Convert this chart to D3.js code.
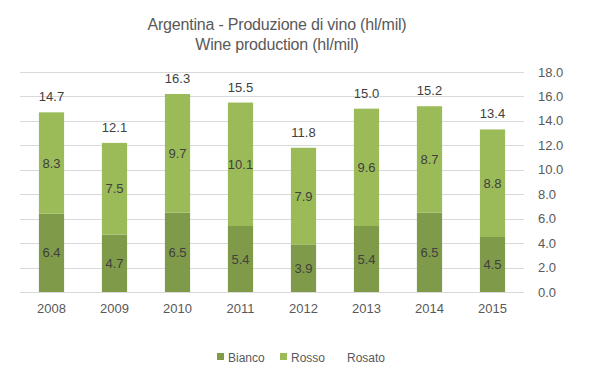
<!DOCTYPE html>
<html>
<head>
<meta charset="utf-8">
<script src="https://cdn.jsdelivr.net/npm/d3@7"></script>
<style>
	body { margin: 0; background: #fff; }
	svg { display: block; }
</style>
</head>
<body>
<div id="chart"></div>
<script>
var years = ["2008", "2009", "2010", "2011", "2012", "2013", "2014", "2015"];
var bianco = [6.4, 4.7, 6.5, 5.4, 3.9, 5.4, 6.5, 4.5];
var rosso = [8.3, 7.5, 9.7, 10.1, 7.9, 9.6, 8.7, 8.8];
var rosato = [0, 0, 0, 0, 0, 0, 0, 0];
var totals = [14.7, 12.1, 16.3, 15.5, 11.8, 15.0, 15.2, 13.4];
var yTicks = [0, 2, 4, 6, 8, 10, 12, 14, 16, 18];
var seriesNames = ["Bianco", "Rosso", "Rosato"];
var seriesColors = ["#7f9a48", "#9bbb59", "none"];

var width = 599, height = 378;
var plotLeft = 20, plotRight = 524, plotTop = 72, plotBottom = 292;

var svg = d3.select("#chart").append("svg")
	.attr("width", width)
	.attr("height", height)
	.style("font-family", "'Liberation Sans', Arial, sans-serif");

var x = d3.scaleBand().domain(years).range([plotLeft, plotRight]).paddingInner(0.6).paddingOuter(0.3);
var y = d3.scaleLinear().domain([0, 18]).range([plotBottom, plotTop]);

// title
var title = svg.append("text")
	.attr("text-anchor", "middle")
	.style("font-family", "'Liberation Sans Narrow', 'Arial Narrow', 'Liberation Sans', sans-serif")
	.style("font-size", "16px")
	.style("letter-spacing", "-0.2px")
	.attr("fill", "#595959");
title.append("tspan").attr("x", 277).attr("y", 30).text("Argentina - Produzione di vino (hl/mil)");
title.append("tspan").attr("x", 277).attr("y", 50).text("Wine production (hl/mil)");

// grid
svg.append("g")
	.selectAll("line")
	.data(yTicks)
	.enter().append("line")
	.attr("x1", plotLeft)
	.attr("x2", plotRight)
	.attr("y1", function(d) { return Math.round(y(d)) + 0.5; })
	.attr("y2", function(d) { return Math.round(y(d)) + 0.5; })
	.attr("stroke", "#d9d9d9")
	.attr("stroke-width", 1);

// y axis labels
svg.append("g")
	.selectAll("text")
	.data(yTicks)
	.enter().append("text")
	.attr("x", 538)
	.attr("y", function(d) { return y(d) + 4.5; })
	.attr("fill", "#595959")
	.style("font-size", "13px")
	.text(function(d) { return d.toFixed(1); });

// stacks
var rows = years.map(function(yr, i) {
	return { year: yr, Bianco: bianco[i], Rosso: rosso[i], Rosato: rosato[i] };
});
var stacked = d3.stack().keys(seriesNames)(rows);

var layers = svg.append("g")
	.selectAll("g")
	.data(stacked)
	.enter().append("g")
	.attr("fill", function(d, i) { return seriesColors[i]; });

layers.selectAll("rect")
	.data(function(d) { return d; })
	.enter().append("rect")
	.attr("x", function(d) { return x(d.data.year); })
	.attr("width", x.bandwidth())
	.attr("y", function(d) { return y(d[1]); })
	.attr("height", function(d) { return y(d[0]) - y(d[1]); });

// segment labels
stacked.slice(0, 2).forEach(function(layer) {
	svg.append("g")
		.selectAll("text")
		.data(layer)
		.enter().append("text")
		.attr("x", function(d) { return x(d.data.year) + x.bandwidth() / 2; })
		.attr("y", function(d) { return (y(d[0]) + y(d[1])) / 2 + 4.5; })
		.attr("text-anchor", "middle")
		.attr("fill", "#404040")
		.style("font-size", "13px")
		.text(function(d) { return (d[1] - d[0]).toFixed(1); });
});

// total labels
svg.append("g")
	.selectAll("text")
	.data(totals)
	.enter().append("text")
	.attr("x", function(d, i) { return x(years[i]) + x.bandwidth() / 2; })
	.attr("y", function(d, i) { return y(bianco[i] + rosso[i]) - 11; })
	.attr("text-anchor", "middle")
	.attr("fill", "#404040")
	.style("font-size", "13px")
	.text(function(d) { return d.toFixed(1); });

// x labels
svg.append("g")
	.selectAll("text")
	.data(years)
	.enter().append("text")
	.attr("x", function(d) { return x(d) + x.bandwidth() / 2; })
	.attr("y", 313)
	.attr("text-anchor", "middle")
	.attr("fill", "#595959")
	.style("font-size", "13px")
	.text(function(d) { return d; });

// legend
var legendX = [217, 280, 336];
var legend = svg.append("g")
	.selectAll("g")
	.data(seriesNames)
	.enter().append("g")
	.attr("transform", function(d, i) { return "translate(" + legendX[i] + ",357)"; });

legend.append("rect")
	.attr("x", 0)
	.attr("y", -4)
	.attr("width", 7)
	.attr("height", 7)
	.attr("fill", function(d, i) { return seriesColors[i]; });

legend.append("text")
	.attr("x", 11)
	.attr("y", 4.5)
	.attr("fill", "#595959")
	.style("font-size", "12px")
	.text(function(d) { return d; });
</script>
</body>
</html>
